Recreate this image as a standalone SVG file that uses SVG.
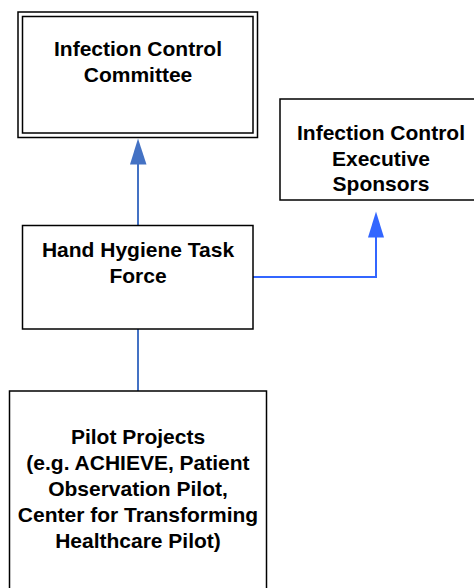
<svg xmlns="http://www.w3.org/2000/svg" width="474" height="588" viewBox="0 0 474 588">
<style>
.box{fill:#fff;stroke:#000;stroke-width:1.5}
.t{font-family:"Liberation Sans",Arial,sans-serif;font-weight:bold;font-size:21px;fill:#000;text-anchor:middle}
.c1{fill:none;stroke:#4472C4;stroke-width:2}
.c2{fill:none;stroke:#3366FF;stroke-width:2}
</style>
<defs>
<marker id="a1" markerUnits="userSpaceOnUse" markerWidth="18" markerHeight="28" refX="26" refY="8" orient="auto" viewBox="0 0 26 16"><path d="M0,0 L26,8 L0,16 Z" fill="#4472C4"/></marker>
<marker id="a2" markerUnits="userSpaceOnUse" markerWidth="18" markerHeight="28" refX="26" refY="8" orient="auto" viewBox="0 0 26 16"><path d="M0,0 L26,8 L0,16 Z" fill="#3366FF"/></marker>
</defs>
<rect width="474" height="588" fill="#fff"/>
<g id="connectors">
<path class="c1" d="M138,226 V164"/>
<path d="M130,164.5 L138,138.5 L146.5,164.5 Z" fill="#4472C4"/>
<path class="c2" d="M253,277 H376 V237"/>
<path d="M368,237.5 L376,211.5 L384,237.5 Z" fill="#3366FF"/>
<path class="c1" d="M138,329 V391"/>
</g>
<g id="committee">
<rect class="box" x="18" y="12" width="239.5" height="125.5"/>
<rect class="box" x="22.5" y="16.5" width="230.5" height="116.5"/>
<text class="t" x="138" y="56">Infection Control</text>
<text class="t" x="138" y="82">Committee</text>
</g>
<g id="sponsors">
<rect class="box" x="280" y="99" width="210" height="101"/>
<text class="t" x="381" y="140">Infection Control</text>
<text class="t" x="381" y="166">Executive</text>
<text class="t" x="381" y="191">Sponsors</text>
</g>
<g id="taskforce">
<rect class="box" x="22.5" y="225.5" width="230.5" height="103.5"/>
<text class="t" x="138" y="257">Hand Hygiene Task</text>
<text class="t" x="138" y="283">Force</text>
</g>
<g id="pilot">
<rect class="box" x="9.5" y="391" width="257" height="220"/>
<text class="t" x="138" y="444">Pilot Projects</text>
<text class="t" x="138" y="470">(e.g. ACHIEVE, Patient</text>
<text class="t" x="138" y="496">Observation Pilot,</text>
<text class="t" x="138" y="522">Center for Transforming</text>
<text class="t" x="138" y="548">Healthcare Pilot)</text>
</g>
</svg>
